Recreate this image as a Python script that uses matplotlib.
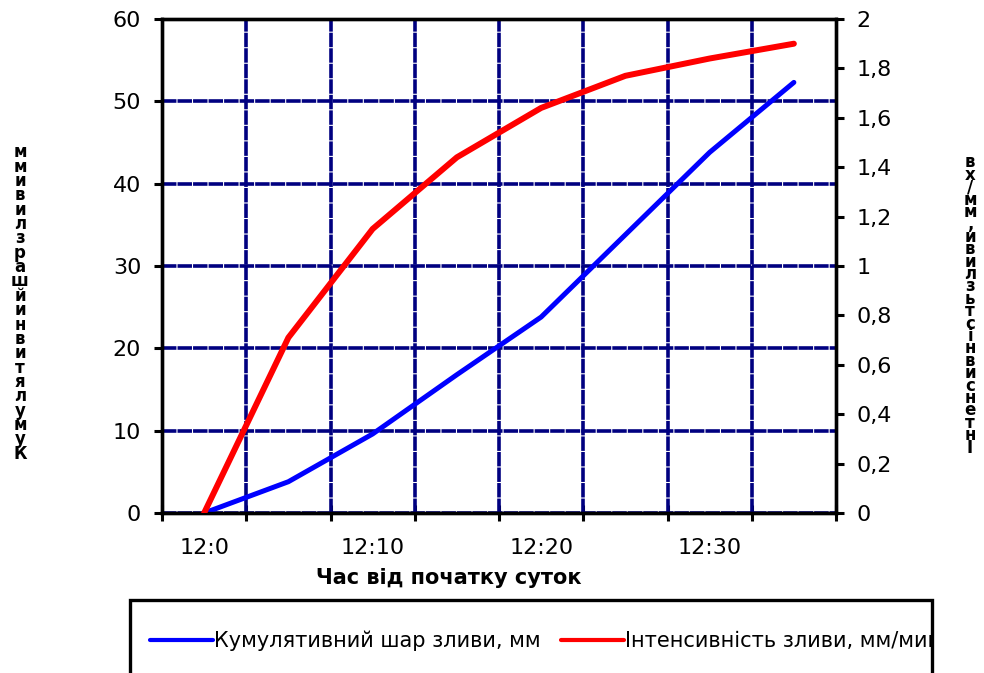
import numpy as np
import matplotlib
matplotlib.use('Agg')
import matplotlib.pyplot as plt
from matplotlib.patches import Rectangle

# categories every 5 minutes, only every second one gets a label
times = ['12:0', '12:05', '12:10', '12:15', '12:20', '12:25', '12:30', '12:35']
tick_labels = ['12:0', '12:10', '12:20', '12:30']
cum_depth = [0, 3.8, 9.6, 16.8, 23.8, 33.8, 43.8, 52.3]      # мм
intensity = [0, 0.71, 1.15, 1.44, 1.64, 1.77, 1.84, 1.90]    # мм/хв

lab_cum = 'Кумулятивний шар зливи, мм'
lab_int = 'Інтенсивність зливи, мм/мин'
ylab_left = 'Кумулятивний шар зливи мм'
ylab_right = 'Інтенсивність зливи, мм/хв'
xlab = 'Час від початку суток'

plt.rcParams['font.family'] = ['DejaVu Sans']
W, H = 984, 673
fig = plt.figure(figsize=(W/100, H/100), dpi=100)
ax = fig.add_axes([162/W, 1-513/H, (836-162)/W, (513-19)/H])
ax2 = ax.twinx()

x = np.arange(len(times))
l1, = ax.plot(x, cum_depth, color='#0000FF', lw=3.6, solid_capstyle='round', zorder=3)
l2, = ax2.plot(x, intensity, color='#FF0000', lw=4.3, solid_capstyle='round', zorder=3)

ax.set_xlim(-0.5, len(times)-0.5)
ax.set_ylim(0, 60)
ax2.set_ylim(0, 2)

# ticks at category boundaries, labels at category centres
ax.set_xticks(np.arange(-0.5, len(times), 1.0))
ax.set_xticklabels([])
ax.set_xticks([0, 2, 4, 6], minor=True)
ax.set_xticklabels(tick_labels, minor=True, fontsize=16)
ax.tick_params(axis='x', which='major', direction='inout', length=12, width=2.2, color='black')
ax.tick_params(axis='x', which='minor', length=0, pad=18)

ax.set_yticks(np.arange(0, 61, 10))
ax.tick_params(axis='y', direction='out', length=6, width=2.2, pad=9, labelsize=16)

rticks = np.round(np.arange(0, 2.01, 0.2), 1)
ax2.set_yticks(rticks)
ax2.set_yticklabels([f'{v:g}'.replace('.', ',') for v in rticks])
ax2.tick_params(axis='y', direction='out', length=6, width=2.2, pad=9, labelsize=16)

gl = dict(color='#000080', lw=2.6, ls=(0, (4, 0.3)))
ax.grid(True, axis='y', **gl)
for xb in np.arange(0.5, len(times)-1, 1.0):
    ax.axvline(xb, zorder=1, **gl)
ax.set_axisbelow(True)

for a in (ax, ax2):
    for s in a.spines.values():
        s.set_linewidth(2.4)
        s.set_color('black')

fig.text(449/W, 1-578/H, xlab, ha='center', va='center', fontsize=15, fontweight='bold')

def stacked(s):
    return '\n'.join(c for c in s[::-1] if c != ' ')

fig.text(20/W, 1-303/H, stacked(ylab_left), ha='center', va='center', fontsize=12,
         fontweight='bold', linespacing=0.74)
fig.text(970/W, 1-305/H, stacked(ylab_right), ha='center', va='center', fontsize=12,
         fontweight='bold', linespacing=0.6)

# legend box, running off the bottom of the figure and clipping the last label
frame = Rectangle((130/W, -0.05), (932-130)/W, 0.05+1-600/H, transform=fig.transFigure,
                  fill=False, edgecolor='black', lw=2.4, zorder=5)
fig.patches.append(frame)
leg = fig.legend([l1, l2], [lab_cum, lab_int], loc='center left', ncol=2,
                 bbox_to_anchor=(150/W, 1-641/H), frameon=False, fontsize=15,
                 handlelength=3.0, handletextpad=0.05, columnspacing=1.0,
                 borderaxespad=0, borderpad=0)
for t in leg.get_texts():
    t.set_clip_path(frame)
for h in leg.get_lines():
    h.set_linewidth(3.0)

fig.savefig('out.png', dpi=100)
